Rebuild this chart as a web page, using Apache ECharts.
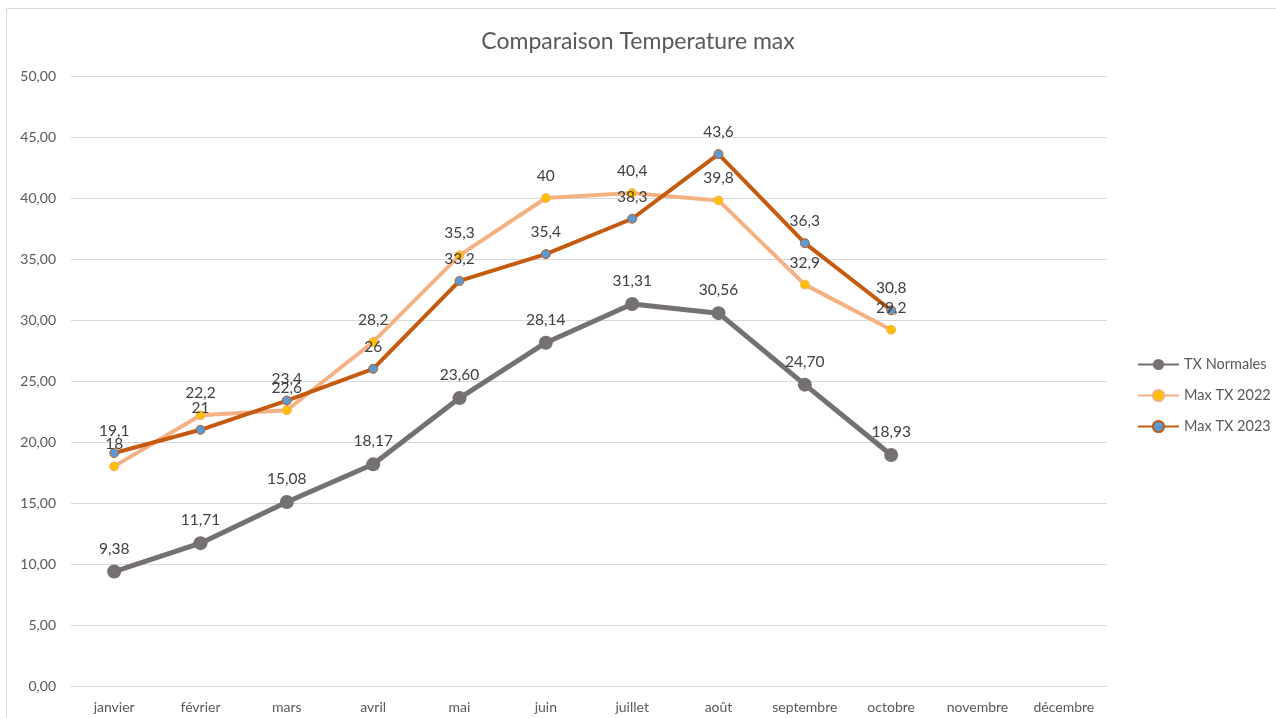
<!DOCTYPE html>
<html><head><meta charset="utf-8">
<script src="https://cdn.jsdelivr.net/npm/echarts@6/dist/echarts.min.js"></script>
<style>html,body{margin:0;padding:0;background:#fff}#c{width:1276px;height:718px}</style>
</head><body><div id="c"></div>
<script>
const months = ['janvier','février','mars','avril','mai','juin','juillet','août','septembre','octobre','novembre','décembre'];
const txNormales = [9.38, 11.71, 15.08, 18.17, 23.60, 28.14, 31.31, 30.56, 24.70, 18.93, null, null];
const maxTx2022 = [18, 22.2, 22.6, 28.2, 35.3, 40, 40.4, 39.8, 32.9, 29.2, null, null];
const maxTx2023 = [19.1, 21, 23.4, 26, 33.2, 35.4, 38.3, 43.6, 36.3, 30.8, null, null];
const yTicks = {min: 0, max: 50, interval: 5};

const font = 'Lato, "Open Sans", sans-serif';
const comma = v => String(v).replace('.', ',');
const chart = echarts.init(document.getElementById('c'));
chart.setOption({
  animation: false,
  textStyle: {fontFamily: font},
  title: {text: 'Comparaison Temperature max', left: 'center', top: 25,
    textStyle: {fontSize: 23, fontWeight: 'normal', color: '#595959', fontFamily: font}},
  graphic: [{type: 'rect', shape: {x: 6.5, y: 8.5, width: 1280, height: 720},
    style: {fill: 'none', stroke: '#d9d9d9', lineWidth: 1}, silent: true}],
  grid: {left: 71, right: 169, top: 76, bottom: 32},
  legend: {orient: 'vertical', left: 1132, top: 352, itemGap: 16, itemWidth: 41, itemHeight: 14,
    textStyle: {fontSize: 14.5, color: '#595959', fontFamily: font},
    data: ['TX Normales', 'Max TX 2022', 'Max TX 2023']},
  xAxis: {type: 'category', data: months, boundaryGap: true,
    axisLine: {show: true, lineStyle: {color: '#d9d9d9'}}, axisTick: {show: false},
    axisLabel: {color: '#595959', fontSize: 14, margin: 14, fontFamily: font}},
  yAxis: {type: 'value', min: yTicks.min, max: yTicks.max, interval: yTicks.interval,
    axisLine: {show: false}, axisTick: {show: false},
    splitLine: {lineStyle: {color: '#d9d9d9', width: 1}},
    axisLabel: {color: '#595959', fontSize: 14, margin: 15, fontFamily: font,
      formatter: v => v.toFixed(2).replace('.', ',')}},
  series: [
    {name: 'TX Normales', type: 'line', data: txNormales, symbol: 'circle', symbolSize: 14,
      lineStyle: {color: '#767171', width: 5}, itemStyle: {color: '#767171'},
      label: {show: true, position: 'top', distance: 8, color: '#404040', fontSize: 15.5, fontFamily: font,
        formatter: p => p.value == null ? '' : p.value.toFixed(2).replace('.', ',')}},
    {name: 'Max TX 2022', type: 'line', data: maxTx2022, symbol: 'circle', symbolSize: 9,
      lineStyle: {color: '#F4B183', width: 4}, itemStyle: {color: '#FFC000', borderColor: '#F4B183', borderWidth: 1},
      label: {show: true, position: 'top', distance: 9, color: '#404040', fontSize: 15.5, fontFamily: font,
        formatter: p => p.value == null ? '' : comma(p.value)}},
    {name: 'Max TX 2023', type: 'line', data: maxTx2023, symbol: 'circle', symbolSize: 9,
      lineStyle: {color: '#C55A11', width: 4}, itemStyle: {color: '#5B9BD5', borderColor: '#C55A11', borderWidth: 1},
      label: {show: true, position: 'top', distance: 9, color: '#404040', fontSize: 15.5, fontFamily: font,
        formatter: p => p.value == null ? '' : comma(p.value)}}
  ]
});
</script></body></html>
